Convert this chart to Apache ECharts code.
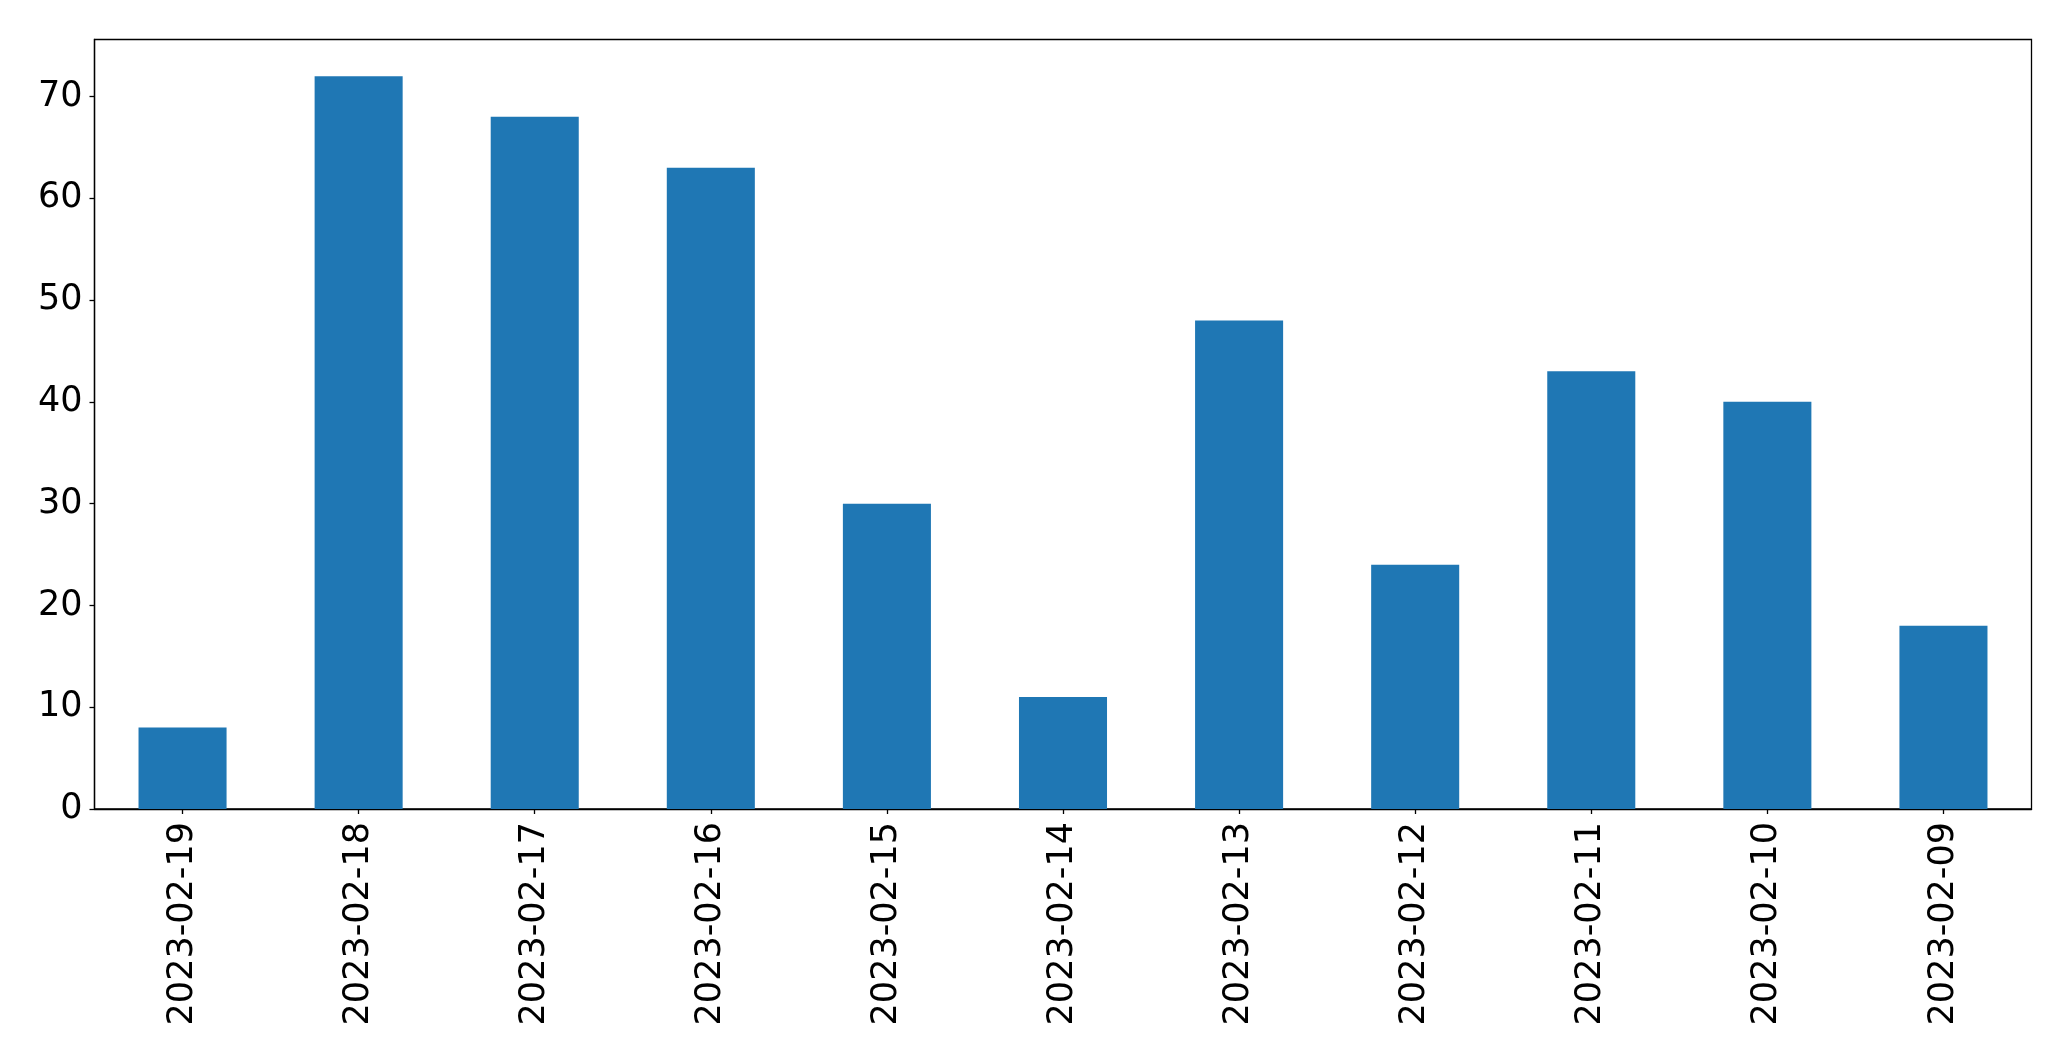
<!DOCTYPE html>
<html>
<head>
<meta charset="utf-8">
<script src="https://cdn.jsdelivr.net/npm/echarts@6/dist/echarts.min.js"></script>
<style>
html,body{margin:0;padding:0;background:#fff;}
#chart{width:2071px;height:1061px;}
</style>
</head>
<body>
<div id="chart"></div>
<script>
const categories = ["2023-02-19","2023-02-18","2023-02-17","2023-02-16","2023-02-15","2023-02-14","2023-02-13","2023-02-12","2023-02-11","2023-02-10","2023-02-09"];
const values = [8, 72, 68, 63, 30, 11, 48, 24, 43, 40, 18];
const yTicks = [0, 10, 20, 30, 40, 50, 60, 70];

const chart = echarts.init(document.getElementById('chart'), null, {renderer: 'canvas'});
const font = 'DejaVu Sans';
chart.setOption({
  animation: false,
  backgroundColor: '#fff',
  grid: {left: 94.5, top: 39.5, right: 39.5, bottom: 252, show: true, borderColor: '#000', borderWidth: 1.3, containLabel: false},
  xAxis: {
    type: 'category',
    data: categories,
    boundaryGap: true,
    axisLine: {show: true, lineStyle: {color: '#000', width: 1.3}},
    axisTick: {show: true, alignWithLabel: true, length: 5, lineStyle: {color: '#000', width: 1.3}},
    axisLabel: {rotate: 90, color: '#000', fontFamily: font, fontSize: 35, margin: 13, interval: 0},
    splitLine: {show: false}
  },
  yAxis: {
    type: 'value',
    min: 0, max: 75.6, interval: 10,
    axisLine: {show: true, lineStyle: {color: '#000', width: 1.3}},
    axisTick: {show: true, length: 5, customValues: yTicks, lineStyle: {color: '#000', width: 1.3}},
    axisLabel: {color: '#000', fontFamily: font, fontSize: 35, margin: 12, customValues: yTicks},
    splitLine: {show: false}
  },
  series: [{
    type: 'bar',
    data: values,
    barWidth: '50%',
    itemStyle: {color: '#1f77b4'}
  }]
});
</script>
</body>
</html>
